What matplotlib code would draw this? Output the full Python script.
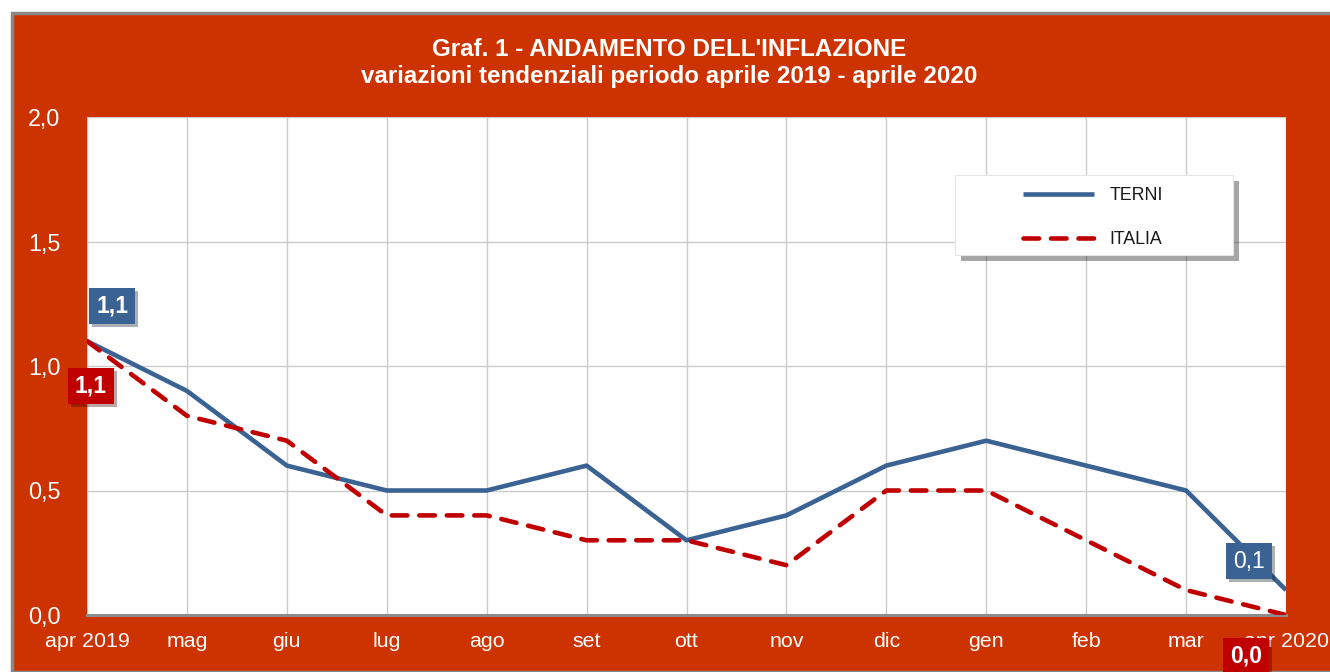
import matplotlib
matplotlib.use("Agg")
import matplotlib.pyplot as plt
import matplotlib.patches as mpatches
import matplotlib.patheffects as pe

plt.rcParams['font.family'] = ['Liberation Sans', 'DejaVu Sans']

months = ["apr 2019", "mag", "giu", "lug", "ago", "set", "ott", "nov", "dic", "gen", "feb", "mar", "apr 2020"]
terni = [1.1, 0.9, 0.6, 0.5, 0.5, 0.6, 0.3, 0.4, 0.6, 0.7, 0.6, 0.5, 0.1]
italia = [1.1, 0.8, 0.7, 0.4, 0.4, 0.3, 0.3, 0.2, 0.5, 0.5, 0.3, 0.1, 0.0]
yticks = [0.0, 0.5, 1.0, 1.5, 2.0]
ytick_labels = ["0,0", "0,5", "1,0", "1,5", "2,0"]

BG = "#CC3300"
BLUE = "#3A6394"
RED = "#C00000"

W, H = 1330, 672
PT = 72 / 100  # points per pixel
fig = plt.figure(figsize=(W / 100, H / 100), dpi=100)
fig.patch.set_facecolor("white")
# red chart area with grey border
fig.patches.append(mpatches.Rectangle((12 / W, 0), 1.2, 1 - 13 / H, transform=fig.transFigure,
                                      facecolor=BG, edgecolor="#888888", linewidth=2.5, zorder=-10))

AX_L, AX_R, AX_T, AX_B = 87, 1286, 117, 615
ax = fig.add_axes([AX_L / W, (H - AX_B) / H, (AX_R - AX_L) / W, (AX_B - AX_T) / H])
ax.set_zorder(2)
ax.set_facecolor("white")
x = list(range(len(months)))
ax.plot(x, terni, color=BLUE, lw=3.3, solid_joinstyle="round", solid_capstyle="butt", zorder=3, label="TERNI")
ax.plot(x, italia, color=RED, lw=3.3, dashes=(3.4, 2.6), dash_capstyle="round", zorder=3, label="ITALIA")

ax.set_xlim(0, len(months) - 1)
ax.set_ylim(0, 2.0)
ax.set_xticks(x)
ax.set_xticklabels(months)
ax.set_yticks(yticks)
ax.set_yticklabels(ytick_labels)
ax.grid(True, color="#CBCBCB", lw=1)
ax.set_axisbelow(True)
for s in ["top", "right", "left"]:
    ax.spines[s].set_visible(False)
ax.spines["bottom"].set_color("#8C8C8C")
ax.spines["bottom"].set_linewidth(2.2)
ax.tick_params(axis="both", length=0, colors="white")
ax.tick_params(axis="x", pad=17 * PT, labelsize=15.4)
ax.tick_params(axis="y", pad=(AX_L - 28) * PT, labelsize=16.8)
for lbl in ax.get_yticklabels():
    lbl.set_horizontalalignment("left")

fig.text(0.503, 1 - 49 / H, "Graf. 1 - ANDAMENTO DELL'INFLAZIONE", ha="center", va="center",
         color="white", fontsize=17.4, fontweight="bold")
fig.text(0.503, 1 - 76 / H, "variazioni tendenziali periodo aprile 2019 - aprile 2020", ha="center",
         va="center", color="white", fontsize=17.4, fontweight="bold")

shadow = [pe.withSimplePatchShadow(offset=(2, -2), alpha=0.35)]


def label(xi, yi, text, color, dx, dy, bold=True):
    t = ax.annotate(text, (xi, yi), xytext=(dx, dy), textcoords="offset pixels",
                    ha="center", va="center", color="white", fontsize=16.5,
                    fontweight="bold" if bold else "normal", annotation_clip=False, zorder=5,
                    bbox=dict(boxstyle="square,pad=0.3", fc=color, ec="none"))
    t.get_bbox_patch().set_path_effects(shadow)


label(0, terni[0], "1,1", BLUE, 25, 35)
label(0, italia[0], "1,1", RED, 4, -45)
label(12, terni[-1], "0,1", BLUE, -37, 29, bold=False)
label(12, italia[-1], "0,0", RED, -40, -41)

# legend box (frame with shadow) and entries
inv = ax.transAxes.inverted()
def to_ax(px, py):
    return inv.transform((px, H - py))

(bx0, by0) = to_ax(955, 255)
(bx1, by1) = to_ax(1233, 175)
box = mpatches.Rectangle((bx0, by0), bx1 - bx0, by1 - by0, transform=ax.transAxes,
                         facecolor="white", edgecolor="#E6E6E6", lw=0.8, zorder=6)
box.set_path_effects([pe.withSimplePatchShadow(offset=(4, -4), alpha=0.35, shadow_rgbFace="black")])
ax.add_patch(box)

lx, ly = to_ax(1016, 180)
leg = ax.legend(loc="upper left", bbox_to_anchor=(lx, ly), frameon=False, fontsize=12.8,
                handlelength=4.0, handletextpad=0.85, labelspacing=1.5, borderpad=0.4, borderaxespad=0)
leg.set_zorder(7)
for t in leg.get_texts():
    t.set_color("#1A1A1A")

fig.savefig("out.png", dpi=100, facecolor=fig.get_facecolor())
